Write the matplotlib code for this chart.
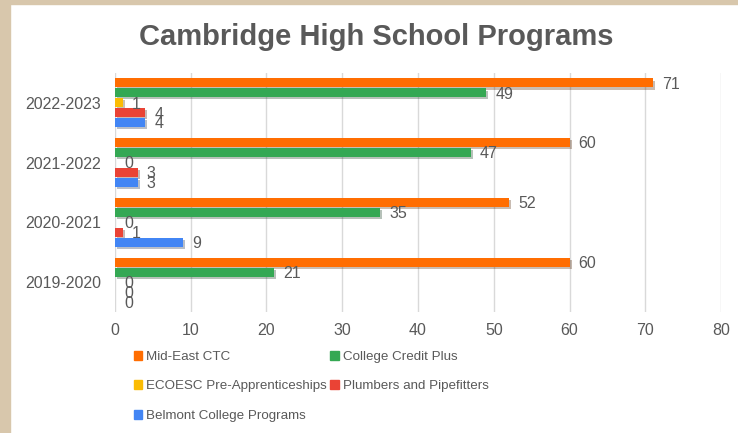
import numpy as np
import matplotlib.pyplot as plt
import matplotlib.patheffects as pe
from matplotlib.patches import Patch, Rectangle

plt.rcParams['font.family'] = ['Liberation Sans', 'DejaVu Sans']

years = ['2019-2020', '2020-2021', '2021-2022', '2022-2023']
series = ['Mid-East CTC', 'College Credit Plus', 'ECOESC Pre-Apprenticeships',
          'Plumbers and Pipefitters', 'Belmont College Programs']
mid_east = [60, 52, 60, 71]
college_credit = [21, 35, 47, 49]
ecoesc = [0, 0, 0, 1]
plumbers = [0, 1, 3, 4]
belmont = [0, 9, 3, 4]
colors = ['#FF6D01', '#34A853', '#FBBC04', '#EA4335', '#4285F4']

values = [mid_east, college_credit, ecoesc, plumbers, belmont]
txt = '#595959'

fig = plt.figure(figsize=(7.38, 4.33), dpi=100)
ax = fig.add_axes([0.1558, 0.2794, 0.8212, 0.552])

y = np.arange(len(years))
step = 1 / 6
shadow = [pe.SimplePatchShadow(offset=(1.5, -1.5), alpha=0.3), pe.Normal()]
for k, (name, vals, c) in enumerate(zip(series, values, colors)):
    pos = y + (2 - k) * step
    bars = ax.barh(pos, vals, height=0.15, color=c, label=name, zorder=3)
    for b in bars:
        b.set_path_effects(shadow)
    for p, v in zip(pos, vals):
        ax.text(v + 1.2, p - 0.02, str(v), ha='left', va='center',
                fontsize=11.5, color=txt, zorder=4)

ax.set_xlim(0, 80)
ax.set_ylim(-0.5, 3.5)
ax.set_xticks(range(0, 81, 10))
ax.set_yticks(y)
ax.set_yticklabels(years)
ax.tick_params(length=0, labelsize=11.5, labelcolor=txt)
ax.tick_params(axis='x', pad=8)
ax.tick_params(axis='y', pad=10)
ax.grid(axis='x', color='#d9d9d9', lw=1, zorder=0)
for s in ax.spines.values():
    s.set_visible(False)

fig.text(0.51, 0.915, 'Cambridge High School Programs', ha='center', va='center',
         fontsize=21, fontweight='bold', color=txt)

order = [0, 2, 4, 1, 3]
handles = [Patch(color=colors[i], label=series[i]) for i in order]
fig.legend(handles=handles, ncol=2, loc='upper left', bbox_to_anchor=(0.181, 0.19),
           frameon=False, fontsize=9.6, labelcolor=txt, handlelength=0.65,
           handleheight=0.65, handletextpad=0.3, columnspacing=0.25,
           labelspacing=1.3, borderpad=0, borderaxespad=0)

# beige frame of the screenshot
fig.patches.append(Rectangle((0, 0), 10 / 738, 1, transform=fig.transFigure,
                             color='#D8C7AC', zorder=10))
fig.patches.append(Rectangle((0, 1 - 4 / 433), 1, 4 / 433, transform=fig.transFigure,
                             color='#D8C7AC', zorder=10))

fig.savefig('out.png', dpi=100)
